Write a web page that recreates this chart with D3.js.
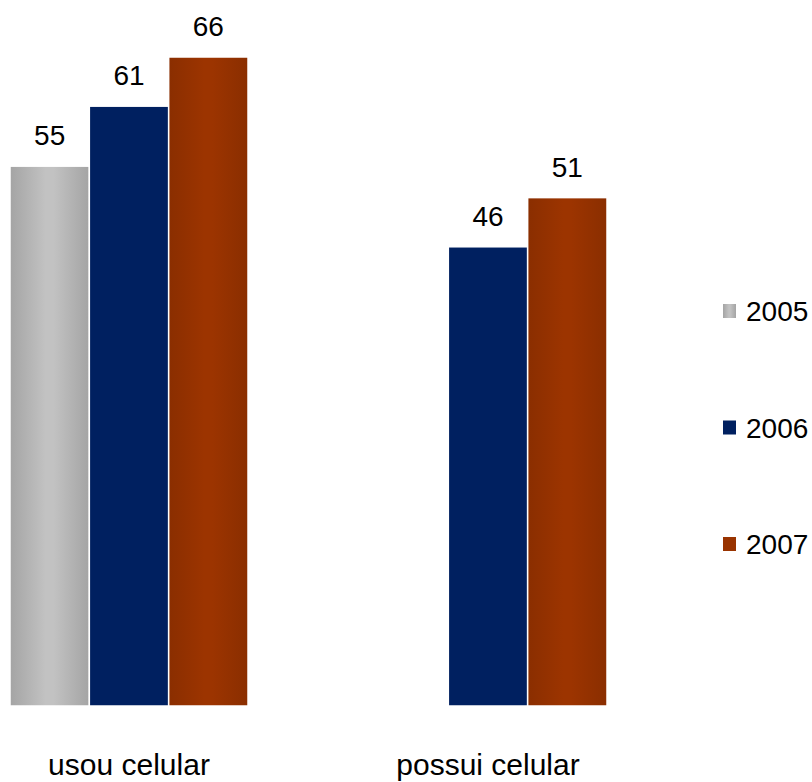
<!DOCTYPE html>
<html><head><meta charset="utf-8">
<script src="https://cdn.jsdelivr.net/npm/d3@7"></script>
<style>html,body{margin:0;padding:0;background:#fff;}svg{display:block;}text{font-family:"Liberation Sans",Arial,sans-serif;fill:#000;}</style>
</head><body>
<script>
const categories = ["usou celular", "possui celular"];
const years = ["2005", "2006", "2007"];
const values2005 = [54.9, null];
const values2006 = [61, 46.7];
const values2007 = [66, 51.7];
const labels2005 = ["55", null];
const labels2006 = ["61", "46"];
const labels2007 = ["66", "51"];
const seriesValues = [values2005, values2006, values2007];
const seriesLabels = [labels2005, labels2006, labels2007];

const W = 812, H = 782;
const svg = d3.select("body").append("svg").attr("width", W).attr("height", H);
const defs = svg.append("defs");
function grad(id, edge, mid) {
  const g = defs.append("linearGradient").attr("id", id).attr("x1", "0%").attr("x2", "100%").attr("y1", "0%").attr("y2", "0%");
  g.append("stop").attr("offset", "0%").attr("stop-color", edge);
  g.append("stop").attr("offset", "45%").attr("stop-color", mid);
  g.append("stop").attr("offset", "55%").attr("stop-color", mid);
  g.append("stop").attr("offset", "100%").attr("stop-color", edge);
}
grad("g2005", "#a4a4a4", "#c2c2c2");
grad("g2007", "#8a2e00", "#9c3400");
const fills = {"2005": "url(#g2005)", "2006": "#002060", "2007": "url(#g2007)"};
const legendFills = {"2005": "url(#g2005)", "2006": "#002060", "2007": "#993300"};

const x0 = d3.scaleBand().domain(categories).range([10, 607]).paddingInner(0.337).paddingOuter(0);
const x1 = d3.scaleBand().domain(years).range([0, x0.bandwidth()]).padding(0);
const y = d3.scaleLinear().domain([0, 66]).range([706, 57]);

const data = [];
categories.forEach((c, ci) => years.forEach((yr, yi) => {
  const v = seriesValues[yi][ci];
  if (v != null) data.push({c, yr, v, label: seriesLabels[yi][ci]});
}));

const g = svg.append("g");
g.selectAll("rect.bar").data(data).join("rect").attr("class", "bar")
  .attr("x", d => x0(d.c) + x1(d.yr))
  .attr("width", x1.bandwidth())
  .attr("y", d => y(d.v))
  .attr("height", d => y(0) - y(d.v))
  .attr("fill", d => fills[d.yr])
  .attr("stroke", "#ffffff").attr("stroke-width", 1.5);

g.selectAll("text.val").data(data).join("text").attr("class", "val")
  .attr("x", d => x0(d.c) + x1(d.yr) + x1.bandwidth() / 2)
  .attr("y", d => y(d.v) - 21)
  .attr("text-anchor", "middle")
  .attr("font-size", 28)
  .text(d => d.label);

g.selectAll("text.cat").data(categories).join("text").attr("class", "cat")
  .attr("x", d => x0(d) + x0.bandwidth() / 2)
  .attr("y", 775)
  .attr("text-anchor", "middle")
  .attr("font-size", 30)
  .text(d => d);

const legY = d3.scalePoint().domain(years).range([311, 544]);
const leg = svg.append("g").selectAll("g").data(years).join("g")
  .attr("transform", d => `translate(723,${legY(d)})`);
leg.append("rect").attr("x", 0).attr("y", -7).attr("width", 13).attr("height", 14)
  .attr("fill", d => legendFills[d]);
leg.append("text").attr("x", 23).attr("y", 10).attr("font-size", 28).text(d => d);
</script>
</body></html>
